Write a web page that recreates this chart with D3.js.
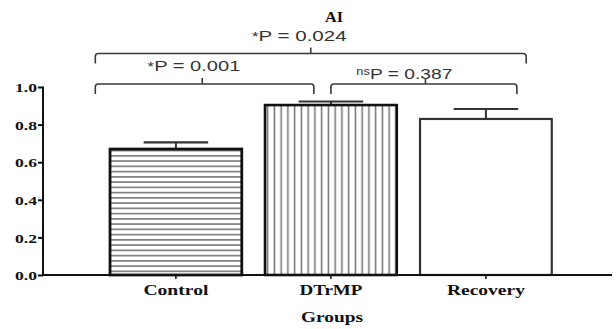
<!DOCTYPE html>
<html><head><meta charset="utf-8">
<script src="https://cdn.jsdelivr.net/npm/d3@7"></script>
<style>body{margin:0;background:#fff}svg{display:block}</style>
</head><body>
<svg id="chart" width="616" height="329"></svg>
<script>
const categories = ["Control", "DTrMP", "Recovery"];
const means = [0.670, 0.904, 0.830];
const sems = [0.035, 0.019, 0.053];
const yTicks = [0.0, 0.2, 0.4, 0.6, 0.8, 1.0];
const title = "AI";
const xTitle = "Groups";
// brackets: ends in category-index units, level in data units
const bracketFrom = [-0.52, -0.52, 1.00];
const bracketTo = [2.26, 0.89, 2.20];
const bracketMid = [0.87, 0.17, 1.61];
const bracketLevel = [1.178, 1.016, 1.016];
const pPrefix = ["*", "*", "ns"];
const pText = ["P = 0.024", "P = 0.001", "P = 0.387"];
const pCenter = [0.795, 0.116, 1.474];
const pLevel = [1.245, 1.085, 1.043];
const pWidth = [95, 93, 96];

const svg = d3.select("#chart");
const x = d3.scaleBand().domain(categories).range([98.4, 563.4]).paddingInner(0.15).paddingOuter(0.075);
const y = d3.scaleLinear().domain([0, 1]).range([275, 87]);
const xi = d3.scaleLinear().domain([0, 1]).range([x(categories[0]) + x.bandwidth() / 2, x(categories[1]) + x.bandwidth() / 2]);

const defs = svg.append("defs");
const ph = defs.append("pattern").attr("id", "hstripe").attr("patternUnits", "userSpaceOnUse")
  .attr("width", 8).attr("height", 5.25).attr("y", 1);
ph.append("line").attr("x1", 0).attr("x2", 8).attr("y1", 2.6).attr("y2", 2.6).attr("stroke", "#6f6f6f").attr("stroke-width", 1.5);
const pv = defs.append("pattern").attr("id", "vstripe").attr("patternUnits", "userSpaceOnUse")
  .attr("width", 6.75).attr("height", 8).attr("x", 1);
pv.append("line").attr("y1", 0).attr("y2", 8).attr("x1", 3.4).attr("x2", 3.4).attr("stroke", "#6f6f6f").attr("stroke-width", 1.5);
const fills = ["url(#hstripe)", "url(#vstripe)", "#ffffff"];
const strokes = ["#111", "#111", "#333"];
const sw = [2.8, 2.6, 2.2];

const serif = "'Liberation Serif', 'DejaVu Serif', serif";
const sans = "'Liberation Sans', Arial, sans-serif";

// error bars
const eb = svg.append("g");
categories.forEach((c, i) => {
  const cx = x(c) + x.bandwidth() / 2;
  eb.append("line").attr("x1", cx).attr("x2", cx).attr("y1", y(means[i])).attr("y2", y(means[i] + sems[i]))
    .attr("stroke", "#333").attr("stroke-width", 2);
  eb.append("line").attr("x1", cx - x.bandwidth() * 0.245).attr("x2", cx + x.bandwidth() * 0.245)
    .attr("y1", y(means[i] + sems[i])).attr("y2", y(means[i] + sems[i]))
    .attr("stroke", "#333").attr("stroke-width", 2.2);
});

// bars
svg.append("g").selectAll("rect").data(categories).join("rect")
  .attr("x", d => x(d)).attr("width", x.bandwidth())
  .attr("y", (d, i) => y(means[i])).attr("height", (d, i) => y(0) - y(means[i]))
  .attr("fill", (d, i) => fills[i]).attr("stroke", (d, i) => strokes[i]).attr("stroke-width", (d, i) => sw[i]);

// y axis
const ya = svg.append("g").attr("transform", "translate(43,0)")
  .call(d3.axisLeft(y).tickValues(yTicks).tickFormat(d3.format(".1f")).tickSizeOuter(0).tickSize(5));
ya.select(".domain").attr("stroke", "#111").attr("stroke-width", 2).attr("d", `M0,${y(1) - 0.5}V${y(0)}`);
ya.selectAll(".tick line").attr("stroke", "#111").attr("stroke-width", 2);
ya.selectAll(".tick text").attr("font-family", serif).attr("font-weight", "bold").attr("font-size", 13)
  .attr("fill", "#111").attr("x", -6).attr("dy", "0.36em").attr("textLength", 22).attr("lengthAdjust", "spacingAndGlyphs");

// x axis
const xa = svg.append("g").attr("transform", `translate(0,${y(0)})`)
  .call(d3.axisBottom(x).tickSizeOuter(0).tickSize(4));
xa.select(".domain").attr("stroke", "#111").attr("stroke-width", 2).attr("d", "M42,0H612");
xa.selectAll(".tick line").attr("stroke", "#111").attr("stroke-width", 1.5);
const catW = [65, 63, 78];
xa.selectAll(".tick text").attr("font-family", serif).attr("font-weight", "bold").attr("font-size", 15)
  .attr("fill", "#111").attr("y", 20).attr("dy", 0)
  .attr("textLength", (d, i) => catW[i]).attr("lengthAdjust", "spacingAndGlyphs");

// axis title & chart title
svg.append("text").attr("x", 332).attr("y", 322).attr("text-anchor", "middle").attr("font-family", serif)
  .attr("font-weight", "bold").attr("font-size", 15).attr("fill", "#111")
  .attr("textLength", 62).attr("lengthAdjust", "spacingAndGlyphs").text(xTitle);
svg.append("text").attr("x", 334).attr("y", 22).attr("text-anchor", "middle").attr("font-family", serif)
  .attr("font-weight", "bold").attr("font-size", 14).attr("fill", "#111")
  .attr("textLength", 18).attr("lengthAdjust", "spacingAndGlyphs").text(title);

// significance brackets
const bg = svg.append("g").attr("fill", "none").attr("stroke", "#3a3a3a").attr("stroke-width", 1.6);
bracketFrom.forEach((f, i) => {
  const x0 = xi(f), x1 = xi(bracketTo[i]), xm = xi(bracketMid[i]), yl = y(bracketLevel[i]);
  const drop = 10, r = 3;
  bg.append("path").attr("d",
    `M${x0},${yl + drop}V${yl + r}Q${x0},${yl} ${x0 + r},${yl}H${x1 - r}Q${x1},${yl} ${x1},${yl + r}V${yl + drop}`);
  bg.append("path").attr("d", `M${xm},${yl}V${yl - 6}`);
});
pText.forEach((t, i) => {
  const tx = svg.append("text").attr("x", xi(pCenter[i])).attr("y", y(pLevel[i])).attr("text-anchor", "middle")
    .attr("font-family", sans).attr("font-size", 15).attr("fill", "#333")
    .attr("textLength", pWidth[i]).attr("lengthAdjust", "spacingAndGlyphs");
  tx.append("tspan").attr("font-size", pPrefix[i] === "*" ? 13 : 10).attr("baseline-shift", pPrefix[i] === "*" ? "0" : "4").text(pPrefix[i]);
  tx.append("tspan").text(t);
});
</script>
</body></html>
